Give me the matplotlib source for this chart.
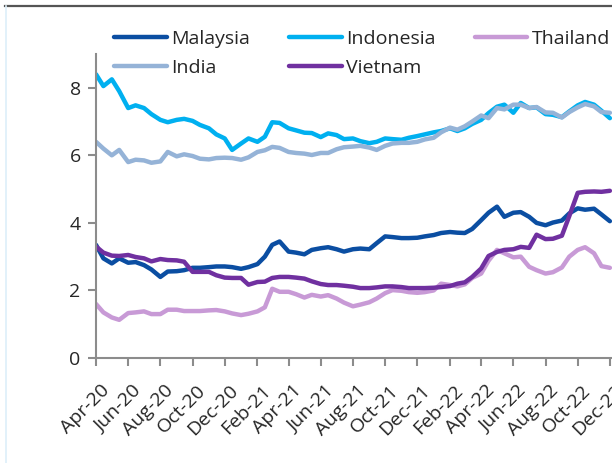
import matplotlib
matplotlib.use("Agg")
import matplotlib.pyplot as plt
import matplotlib.dates as mdates
import matplotlib.transforms as mtransforms
from matplotlib.lines import Line2D
import pandas as pd

plt.rcParams['font.family'] = ['Open Sans', 'DejaVu Sans']

# semi-monthly observation dates (1st and 15th), Apr-2020 .. Dec-2022
dates = pd.date_range('2020-04-01', '2022-12-01', freq='SMS')

malaysia = [3.35, 2.95, 2.80, 2.95, 2.82, 2.84, 2.75, 2.62, 2.40, 2.56, 2.57, 2.60, 2.67,
            2.67, 2.69, 2.71, 2.71, 2.69, 2.64, 2.69, 2.78, 3.00, 3.35, 3.45, 3.15, 3.12,
            3.07, 3.20, 3.25, 3.28, 3.22, 3.15, 3.22, 3.24, 3.22, 3.40, 3.60, 3.58, 3.55,
            3.55, 3.56, 3.60, 3.64, 3.70, 3.73, 3.71, 3.70, 3.82, 4.08, 4.30, 4.48, 4.18,
            4.30, 4.32, 4.18, 4.00, 3.93, 4.01, 4.07, 4.28, 4.43, 4.39, 4.42, 4.25, 4.05]

indonesia = [8.40, 8.05, 8.25, 7.90, 7.40, 7.48, 7.40, 7.22, 7.05, 6.98, 7.05, 7.08, 7.02,
             6.90, 6.80, 6.62, 6.50, 6.16, 6.35, 6.50, 6.40, 6.55, 6.98, 6.96, 6.80, 6.74,
             6.67, 6.66, 6.54, 6.65, 6.60, 6.48, 6.50, 6.42, 6.36, 6.40, 6.50, 6.48, 6.46,
             6.52, 6.57, 6.62, 6.68, 6.72, 6.80, 6.72, 6.80, 6.93, 7.05, 7.25, 7.44, 7.50,
             7.26, 7.55, 7.40, 7.42, 7.22, 7.20, 7.13, 7.30, 7.48, 7.58, 7.50, 7.32, 7.10]

thailand = [1.60, 1.35, 1.20, 1.13, 1.33, 1.35, 1.38, 1.30, 1.30, 1.43, 1.43, 1.39, 1.39,
            1.39, 1.41, 1.42, 1.38, 1.32, 1.27, 1.31, 1.38, 1.50, 2.05, 1.96, 1.96, 1.89,
            1.79, 1.87, 1.82, 1.86, 1.76, 1.64, 1.53, 1.58, 1.65, 1.76, 1.92, 2.01, 1.99,
            1.95, 1.93, 1.95, 2.00, 2.20, 2.16, 2.12, 2.18, 2.37, 2.50, 2.88, 3.20, 3.10,
            2.98, 3.00, 2.70, 2.60, 2.50, 2.54, 2.68, 3.00, 3.20, 3.28, 3.10, 2.72, 2.67]

india = [6.40, 6.20, 6.00, 6.16, 5.80, 5.87, 5.85, 5.78, 5.82, 6.10, 5.97, 6.03, 5.98,
         5.90, 5.88, 5.92, 5.93, 5.92, 5.87, 5.94, 6.10, 6.15, 6.25, 6.22, 6.10, 6.07,
         6.05, 6.01, 6.07, 6.07, 6.18, 6.24, 6.26, 6.28, 6.23, 6.16, 6.28, 6.35, 6.37,
         6.37, 6.40, 6.47, 6.52, 6.68, 6.82, 6.76, 6.86, 7.00, 7.18, 7.10, 7.40, 7.36,
         7.50, 7.50, 7.40, 7.43, 7.27, 7.26, 7.12, 7.28, 7.42, 7.52, 7.45, 7.28, 7.26]

vietnam = [3.30, 3.12, 3.03, 3.02, 3.05, 2.99, 2.95, 2.86, 2.93, 2.90, 2.89, 2.85, 2.55,
           2.55, 2.55, 2.45, 2.38, 2.37, 2.37, 2.17, 2.25, 2.26, 2.37, 2.40, 2.40, 2.38,
           2.35, 2.27, 2.19, 2.16, 2.16, 2.14, 2.11, 2.07, 2.07, 2.09, 2.12, 2.12, 2.10,
           2.07, 2.07, 2.07, 2.08, 2.10, 2.13, 2.20, 2.24, 2.40, 2.65, 3.02, 3.14, 3.20,
           3.22, 3.29, 3.26, 3.65, 3.52, 3.53, 3.62, 4.20, 4.89, 4.92, 4.93, 4.92, 4.95]

series = [
    ("Malaysia", malaysia, "#0B4EA2"),
    ("Indonesia", indonesia, "#00B0F0"),
    ("Thailand", thailand, "#C89AD6"),
    ("India", india, "#95B3D7"),
    ("Vietnam", vietnam, "#7030A0"),
]

yticks = [0, 2, 4, 6, 8]

fig = plt.figure(figsize=(6.12, 4.63), dpi=100)
ax = fig.add_axes([96/612, 1 - 358/463, (612 - 96)/612, (358 - 54)/463])

handles = {}
for name, vals, col in series:
    ln, = ax.plot(dates, vals, color=col, lw=3.2, solid_capstyle='round',
                  solid_joinstyle='round')
    handles[name] = ln

ax.set_ylim(0, 9)
ax.set_yticks(yticks)
ax.set_xlim(pd.Timestamp('2020-04-01'), pd.Timestamp('2022-12-05'))
ax.xaxis.set_major_locator(mdates.MonthLocator(bymonth=[2, 4, 6, 8, 10, 12]))
ax.xaxis.set_major_formatter(mdates.DateFormatter('%b-%y'))

for s in ['top', 'right']:
    ax.spines[s].set_visible(False)
for s in ['left', 'bottom']:
    ax.spines[s].set_color('#8C8C8C')
    ax.spines[s].set_linewidth(1.5)
ax.tick_params(axis='both', colors='#8C8C8C', width=1.5, length=6,
               labelcolor='#262626', labelsize=14)
ax.tick_params(axis='y', pad=5)
ax.tick_params(axis='x', pad=11)
shift = mtransforms.ScaledTranslation(4/100, 0, fig.dpi_scale_trans)
for lab in ax.get_xticklabels():
    lab.set_rotation(45)
    lab.set_ha('right')
    lab.set_rotation_mode('anchor')
    lab.set_transform(lab.get_transform() + shift)

order = ["Malaysia", "India", "Indonesia", "Vietnam", "Thailand"]
leg = fig.legend([handles[n] for n in order], order, ncol=3,
                 loc='upper left', bbox_to_anchor=(114/612, 1 - 30/463),
                 frameon=False, fontsize=14, handlelength=2.7, handletextpad=0.25,
                 columnspacing=2.0, labelspacing=0.55, borderaxespad=0, borderpad=0)
for t in leg.get_texts():
    t.set_color('#262626')

# frame elements of the original page
fig.add_artist(Line2D([5/612, 1], [1 - 5.5/463, 1 - 5.5/463], color='#555555', lw=1.6))
fig.add_artist(Line2D([5.5/612, 5.5/612], [0, 1 - 6/463], color='#DDEFFA', lw=1.2))

fig.savefig('out.png', dpi=100)
